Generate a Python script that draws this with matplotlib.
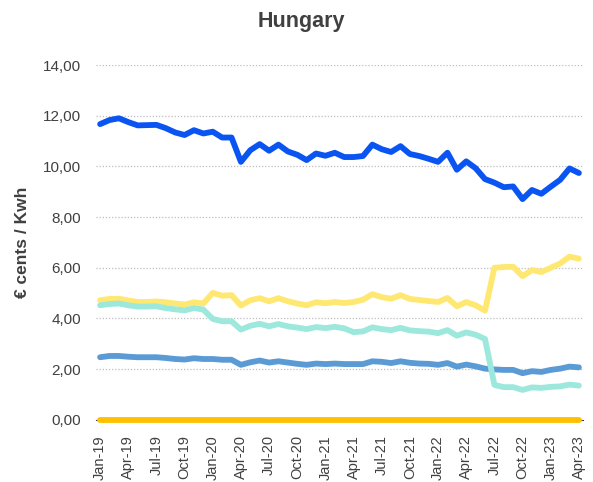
import matplotlib.pyplot as plt
from matplotlib.ticker import FuncFormatter

plt.rcParams['font.family'] = ['Liberation Sans', 'DejaVu Sans']

months = ['Jan', 'Feb', 'Mar', 'Apr', 'May', 'Jun', 'Jul', 'Aug', 'Sep', 'Oct', 'Nov', 'Dec']
dates = [f"{months[m]}-{y}" for y in range(19, 24) for m in range(12)][:52]

# prices in euro cents per kWh, Jan-19 .. Apr-23
series_a = [11.67, 11.83, 11.90, 11.75, 11.62, 11.63, 11.64, 11.51, 11.34, 11.24,
            11.43, 11.30, 11.37, 11.14, 11.14, 10.18, 10.64, 10.88, 10.62, 10.86,
            10.59, 10.46, 10.25, 10.51, 10.42, 10.54, 10.37, 10.37, 10.41, 10.86,
            10.68, 10.57, 10.80, 10.49, 10.41, 10.30, 10.18, 10.54, 9.87, 10.20,
            9.93, 9.50, 9.36, 9.18, 9.21, 8.71, 9.07, 8.92, 9.20, 9.47, 9.92, 9.74]
series_b = [4.72, 4.77, 4.78, 4.71, 4.65, 4.65, 4.67, 4.64, 4.59, 4.55,
            4.64, 4.59, 5.01, 4.90, 4.92, 4.51, 4.72, 4.80, 4.68, 4.80,
            4.68, 4.59, 4.52, 4.64, 4.60, 4.65, 4.61, 4.65, 4.74, 4.96,
            4.84, 4.78, 4.92, 4.77, 4.73, 4.69, 4.65, 4.81, 4.48, 4.65,
            4.52, 4.31, 6.00, 6.03, 6.04, 5.67, 5.91, 5.83, 6.00, 6.17, 6.44, 6.36]
series_c = [4.52, 4.57, 4.59, 4.52, 4.47, 4.47, 4.48, 4.41, 4.36, 4.32,
            4.41, 4.35, 3.98, 3.89, 3.89, 3.56, 3.71, 3.79, 3.69, 3.78,
            3.69, 3.64, 3.58, 3.66, 3.62, 3.67, 3.61, 3.46, 3.49, 3.65,
            3.58, 3.54, 3.63, 3.53, 3.50, 3.48, 3.42, 3.54, 3.32, 3.45,
            3.36, 3.19, 1.38, 1.29, 1.29, 1.18, 1.28, 1.26, 1.30, 1.32, 1.39, 1.35]
series_d = [2.47, 2.52, 2.52, 2.49, 2.47, 2.47, 2.47, 2.44, 2.40, 2.38,
            2.43, 2.40, 2.40, 2.37, 2.37, 2.17, 2.27, 2.34, 2.26, 2.31,
            2.26, 2.21, 2.17, 2.22, 2.20, 2.22, 2.20, 2.20, 2.20, 2.31,
            2.29, 2.24, 2.31, 2.25, 2.22, 2.21, 2.17, 2.24, 2.10, 2.18,
            2.11, 2.02, 1.99, 1.97, 1.97, 1.84, 1.92, 1.89, 1.97, 2.02, 2.10, 2.07]
series_e = [0.0] * 52

text_col = '#404040'
x = list(range(len(dates)))

fig = plt.figure(figsize=(5.93, 4.82), dpi=100)
ax = fig.add_axes([0.162, 0.129, 0.821, 0.736])

ax.plot(x, series_b, color='#FFE872', lw=4.2, solid_capstyle='round', solid_joinstyle='round')
ax.plot(x, series_d, color='#5B9BD5', lw=4.2, solid_capstyle='round', solid_joinstyle='round')
ax.plot(x, series_c, color='#9DE8DD', lw=4.2, solid_capstyle='round', solid_joinstyle='round')
ax.plot(x, series_a, color='#0A55F2', lw=4.2, solid_capstyle='round', solid_joinstyle='round')
ax.plot(x, series_e, color='#FFC000', lw=4.2, solid_capstyle='round', clip_on=False, zorder=5)

ax.set_ylim(0, 14)
ax.set_xlim(-0.43, 51.43)
ax.set_yticks(range(0, 15, 2))
ax.yaxis.set_major_formatter(FuncFormatter(lambda v, p: f"{v:.2f}".replace('.', ',')))
ax.set_xticks(x[::3])
ax.set_xticklabels(dates[::3], rotation=90)

ax.grid(axis='y', color='#BFBFBF', linestyle=(0, (1, 1.5)), linewidth=0.9)
ax.set_axisbelow(True)
for s in ['top', 'right', 'left']:
    ax.spines[s].set_visible(False)
ax.spines['bottom'].set_color('#404040')
ax.spines['bottom'].set_linewidth(0.8)
ax.tick_params(axis='y', length=0, labelsize=11, colors=text_col, pad=11)
ax.tick_params(axis='x', length=0, labelsize=10.5, colors=text_col, pad=11)

ax.set_ylabel('€ cents / Kwh', fontsize=12.5, fontweight='bold', color=text_col, labelpad=9)
fig.text(0.508, 0.955, 'Hungary', ha='center', va='center', fontsize=15.5,
         fontweight='bold', color=text_col)

fig.savefig('out.png', dpi=100)
